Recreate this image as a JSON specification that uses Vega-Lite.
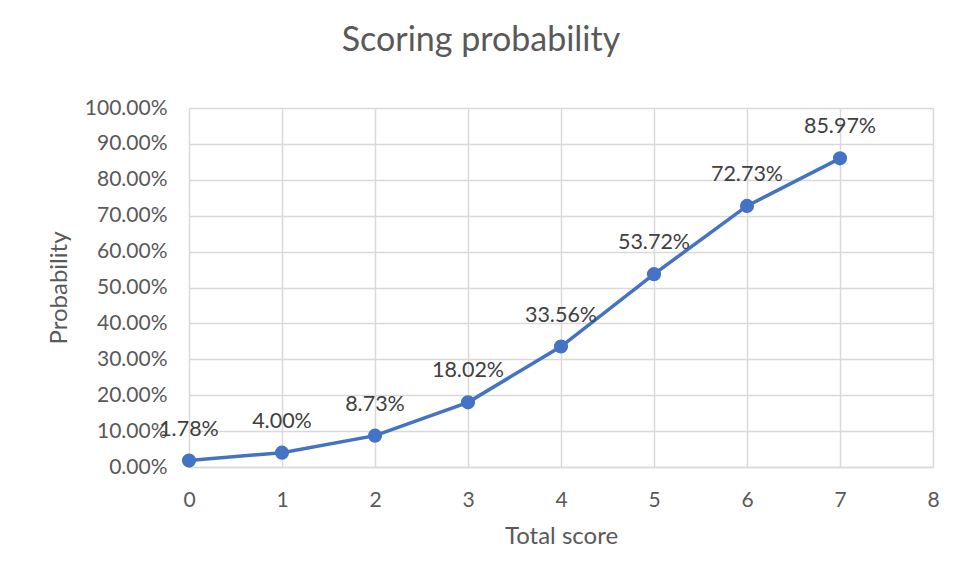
{
  "$schema": "https://vega.github.io/schema/vega-lite/v6.json",
  "autosize": {"type": "none"},
  "width": 744,
  "height": 359,
  "padding": {"left": 189, "top": 108, "right": 22, "bottom": 116},
  "background": "white",
  "config": {
    "font": "Lato",
    "view": {"stroke": null}
  },
  "title": {
    "text": "Scoring probability",
    "fontSize": 34,
    "font": "Lato",
    "fontWeight": "normal",
    "color": "#595959",
    "anchor": "middle",
    "dx": -80,
    "offset": 39
  },
  "data": {
    "values": [
      {"score": 0, "p": 0.0178},
      {"score": 1, "p": 0.04},
      {"score": 2, "p": 0.0873},
      {"score": 3, "p": 0.1802},
      {"score": 4, "p": 0.3356},
      {"score": 5, "p": 0.5372},
      {"score": 6, "p": 0.7273},
      {"score": 7, "p": 0.8597}
    ]
  },
  "encoding": {
    "x": {
      "field": "score",
      "type": "quantitative",
      "scale": {"domain": [0, 8], "nice": false, "zero": false},
      "axis": {
        "title": "Total score",
        "values": [0, 1, 2, 3, 4, 5, 6, 7, 8],
        "format": "d",
        "grid": true,
        "gridColor": "#d9d9d9",
        "gridWidth": 1.5,
        "domainColor": "#d9d9d9",
        "domainWidth": 1.5,
        "ticks": false,
        "labelFlush": false,
        "labelPadding": 22,
        "labelFontSize": 21,
        "labelColor": "#595959",
        "labelFont": "Lato",
        "titleFontSize": 24,
        "titleFont": "Lato",
        "titleFontWeight": "normal",
        "titleColor": "#595959",
        "titlePadding": 14
      }
    },
    "y": {
      "field": "p",
      "type": "quantitative",
      "scale": {"domain": [0, 1], "nice": false},
      "axis": {
        "title": "Probability",
        "values": [0, 0.1, 0.2, 0.3, 0.4, 0.5, 0.6, 0.7, 0.8, 0.9, 1.0],
        "format": ".2%",
        "grid": true,
        "gridColor": "#d9d9d9",
        "gridWidth": 1.5,
        "domain": false,
        "ticks": false,
        "labelFlush": false,
        "labelPadding": 22,
        "labelFontSize": 21,
        "labelColor": "#595959",
        "labelFont": "Lato",
        "titleFontSize": 24,
        "titleFont": "Lato",
        "titleFontWeight": "normal",
        "titleColor": "#595959",
        "titlePadding": 13
      }
    }
  },
  "layer": [
    {
      "mark": {"type": "rule", "color": "#d9d9d9", "strokeWidth": 1.5},
      "data": {"values": [{"x": 8}]},
      "encoding": {"x": {"field": "x", "type": "quantitative"}, "y": {"datum": 0}, "y2": {"datum": 1}}
    },
    {
      "mark": {"type": "line", "color": "#4472C4", "strokeWidth": 3.5},
      "encoding": {}
    },
    {
      "mark": {"type": "point", "filled": true, "opacity": 1, "color": "#4472C4", "size": 200},
      "encoding": {}
    },
    {
      "mark": {"type": "text", "dy": -31, "fontSize": 21.5, "font": "Lato", "color": "#404040"},
      "encoding": {"text": {"field": "p", "type": "quantitative", "format": ".2%"}}
    }
  ]
}
